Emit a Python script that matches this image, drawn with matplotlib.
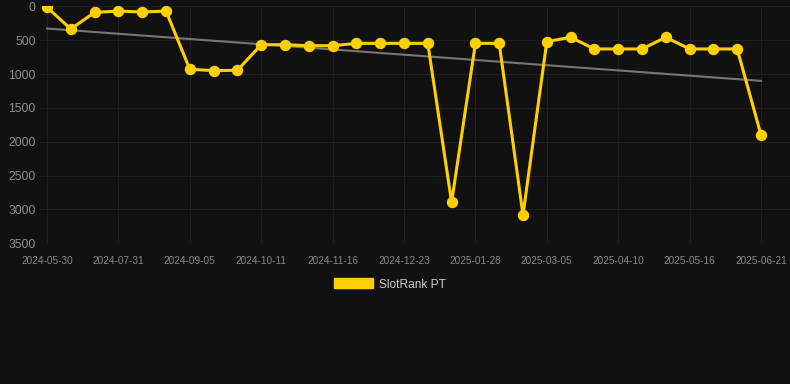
import matplotlib
matplotlib.use("Agg")
import matplotlib.pyplot as plt
from matplotlib.patches import Patch
import numpy as np

plt.rcParams["font.family"] = ["Liberation Sans", "DejaVu Sans"]

dates = ["2024-05-30", "2024-06-20", "2024-07-10", "2024-07-31", "2024-08-12",
         "2024-08-24", "2024-09-05", "2024-09-17", "2024-09-29", "2024-10-11",
         "2024-10-23", "2024-11-04", "2024-11-16", "2024-11-28", "2024-12-10",
         "2024-12-23", "2025-01-04", "2025-01-16", "2025-01-28", "2025-02-09",
         "2025-02-21", "2025-03-05", "2025-03-17", "2025-03-29", "2025-04-10",
         "2025-04-22", "2025-05-04", "2025-05-16", "2025-05-28", "2025-06-09",
         "2025-06-21"]
rank = [15, 335, 90, 70, 85, 70, 930, 950, 945, 567, 567, 582, 582, 547, 547,
        547, 547, 2895, 547, 547, 3082, 522, 458, 630, 630, 630, 458, 630, 630,
        630, 1900]
yticks = [0, 500, 1000, 1500, 2000, 2500, 3000, 3500]
series_name = "SlotRank PT"

BG = "#111111"
GOLD = "#FFD000"

fig = plt.figure(figsize=(7.9, 3.84), dpi=100, facecolor=BG)
W, H = 790, 384
left, right, top, bottom = 40, 790, 6.3, 243.3
ax = fig.add_axes([left / W, 1 - bottom / H, (right - left) / W, (bottom - top) / H])
ax.set_facecolor(BG)

x = np.arange(len(rank))
ax.plot(x, rank, color=GOLD, lw=2.2, marker="o", ms=7.2, mfc=GOLD, mec=GOLD,
        solid_joinstyle="miter", zorder=3)

coef = np.polyfit(x, rank, 1)
ax.plot(x, np.polyval(coef, x), color="#777777", lw=1.5, zorder=2)

px_per = (761 - 47) / (len(rank) - 1)
ax.set_xlim(-(47 - left) / px_per, (len(rank) - 1) + (right - 761) / px_per)
ax.set_ylim(3500, 0)
ax.set_yticks(yticks)
ax.set_yticklabels([str(v) for v in yticks])
tick_idx = list(range(0, len(dates), 3))
ax.set_xticks(tick_idx)
ax.set_xticklabels([dates[i] for i in tick_idx])

ax.grid(True, color="#1f1f1f", lw=0.8)
ax.set_axisbelow(True)
for s in ax.spines.values():
    s.set_visible(False)
ax.tick_params(axis="y", length=0, pad=3, labelsize=8.7, labelcolor="#8f8f8f")
ax.tick_params(axis="x", length=0, pad=9, labelsize=7.2, labelcolor="#8a8a8a")

handle = Patch(facecolor=GOLD, edgecolor=GOLD)
leg = fig.legend([handle], [series_name], loc="center",
                 bbox_to_anchor=(0.5 - 5 / W, 1 - 284.5 / H), frameon=False,
                 fontsize=8.6, handlelength=3.3, handleheight=0.9,
                 handletextpad=0.5, labelcolor="#cccccc")

fig.savefig("out.png", dpi=100, facecolor=BG)
